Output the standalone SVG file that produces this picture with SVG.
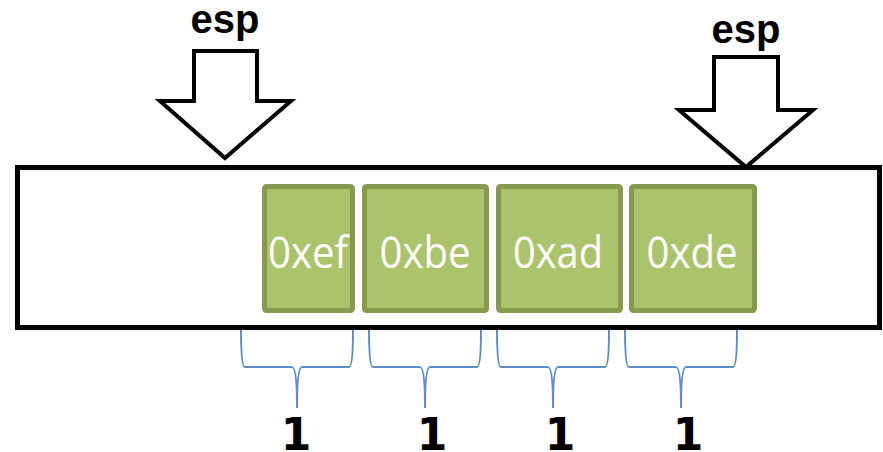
<svg xmlns="http://www.w3.org/2000/svg" width="883" height="452" viewBox="0 0 883 452">
<style>
.arrow{fill:#fff;stroke:#000;stroke-width:4;stroke-linejoin:miter}
.lbl{font-family:"Liberation Sans",Arial,sans-serif;font-weight:bold;font-size:40px;fill:#000;text-anchor:middle}
.box{fill:#abc46c;stroke:#86994e;stroke-width:5}
.btxt{font-family:"Open Sans","Noto Sans",sans-serif;font-size:44px;fill:#fff;text-anchor:middle}
.brace{fill:none;stroke:#5b8fcc;stroke-width:2}
.one{font-family:"DejaVu Sans",sans-serif;font-weight:bold;font-size:44px;fill:#000;text-anchor:middle}
</style>
<rect id="memory" x="17.5" y="167.5" width="862" height="160" fill="#fff" stroke="#000" stroke-width="5"/>
<g id="esp-left">
<polygon class="arrow" points="194,51 257,51 257,101 291,101 225,158 160,101 194,101"/>
<text class="lbl" x="225" y="33">esp</text>
</g>
<g id="esp-right">
<polygon class="arrow" points="714,57 778,57 778,110 813,110 746,167 679,110 714,110"/>
<text class="lbl" x="746" y="43">esp</text>
</g>
<g id="byte-ef">
<rect class="box" x="264.5" y="186.5" width="88" height="124" rx="2"/>
<text class="btxt" x="308" y="268" textLength="80" lengthAdjust="spacingAndGlyphs">0xef</text>
</g>
<g id="byte-be">
<rect class="box" x="364.5" y="186.5" width="122" height="124" rx="2"/>
<text class="btxt" x="425" y="268" textLength="91" lengthAdjust="spacingAndGlyphs">0xbe</text>
</g>
<g id="byte-ad">
<rect class="box" x="498.5" y="186.5" width="122" height="124" rx="2"/>
<text class="btxt" x="558" y="268" textLength="90" lengthAdjust="spacingAndGlyphs">0xad</text>
</g>
<g id="byte-de">
<rect class="box" x="631.5" y="186.5" width="123" height="124" rx="2"/>
<text class="btxt" x="692" y="268" textLength="91" lengthAdjust="spacingAndGlyphs">0xde</text>
</g>
<g id="connectors">
<path class="brace" d="M241,330 Q241,367 245,367 H292 Q297,367 297,408 Q297,367 302,367 H349 Q353,367 353,330"/>
<path class="brace" d="M369,330 Q369,367 373,367 H420 Q425,367 425,408 Q425,367 430,367 H477 Q481,367 481,330"/>
<path class="brace" d="M497,330 Q497,367 501,367 H548 Q553,367 553,408 Q553,367 558,367 H605 Q609,367 609,330"/>
<path class="brace" d="M625,330 Q625,367 629,367 H676 Q681,367 681,408 Q681,367 686,367 H733 Q737,367 737,330"/>
</g>
<g id="sizes">
<text class="one" x="296" y="450">1</text>
<text class="one" x="432" y="450">1</text>
<text class="one" x="560" y="450">1</text>
<text class="one" x="688" y="450">1</text>
</g>
</svg>
